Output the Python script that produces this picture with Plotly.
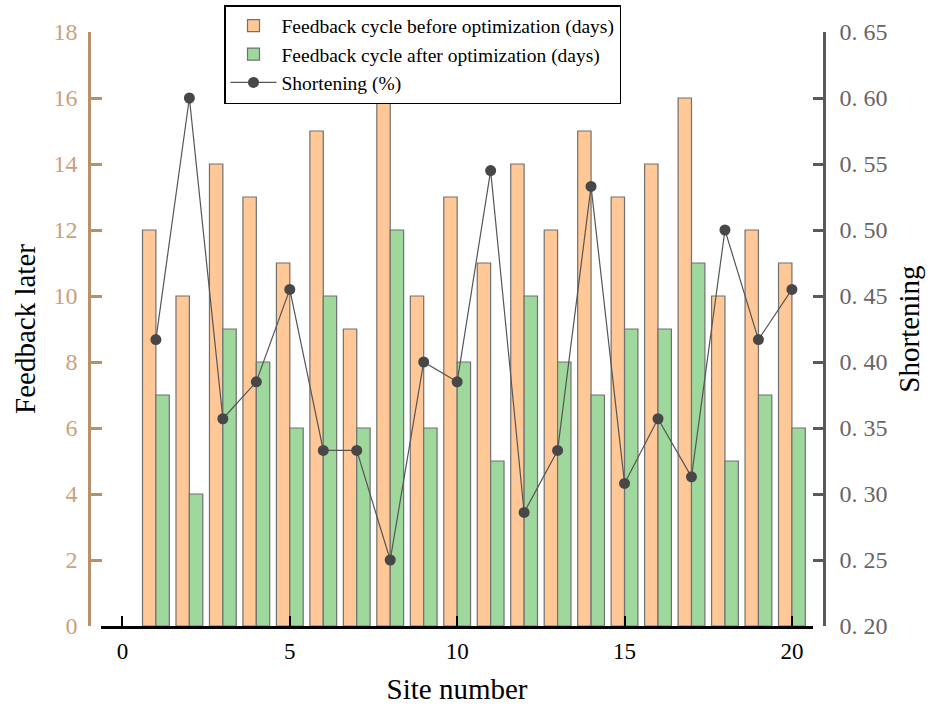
import plotly.graph_objects as go

sites = list(range(1, 21))
before_days = [12, 10, 14, 13, 11, 15, 9, 16, 10, 13, 11, 14, 12, 15, 13, 14, 16, 10, 12, 11]
after_days = [7, 4, 9, 8, 6, 10, 6, 12, 6, 8, 5, 10, 8, 7, 9, 9, 11, 5, 7, 6]
shortening = [0.417, 0.600, 0.357, 0.385, 0.455, 0.333, 0.333, 0.250, 0.400, 0.385,
              0.545, 0.286, 0.333, 0.533, 0.308, 0.357, 0.313, 0.500, 0.417, 0.455]

left_ticks = [0, 2, 4, 6, 8, 10, 12, 14, 16, 18]
right_ticks = [0.20, 0.25, 0.30, 0.35, 0.40, 0.45, 0.50, 0.55, 0.60, 0.65]
right_labels = ["0. 20", "0. 25", "0. 30", "0. 35", "0. 40", "0. 45", "0. 50", "0. 55", "0. 60", "0. 65"]

SERIF = "Liberation Serif, Times New Roman, serif"
TAN = "#B8916B"
TANTXT = "#C9A27D"
GRAY = "#5a5a5a"

fig = go.Figure()
fig.add_trace(go.Bar(x=sites, y=before_days, name="Feedback cycle before optimization (days)",
                     marker=dict(color="#FFC896", line=dict(color="#707070", width=1.2))))
fig.add_trace(go.Bar(x=sites, y=after_days, name="Feedback cycle after optimization (days)",
                     marker=dict(color="#9FD89C", line=dict(color="#707070", width=1.2))))
fig.add_trace(go.Scatter(x=sites, y=shortening, name="Shortening (%)", yaxis="y2",
                         mode="lines+markers",
                         line=dict(color="#555555", width=1.2),
                         marker=dict(color="#474747", size=11)))

W, H = 930, 706
L, R, T, B = 89, 106, 32, 80
pw = W - L - R
ph = H - T - B

fig.update_layout(
    width=W, height=H,
    margin=dict(l=L, r=R, t=T, b=B, autoexpand=False),
    paper_bgcolor="white", plot_bgcolor="white",
    barmode="group", bargap=0.2, bargroupgap=0,
    font=dict(family=SERIF, color="black"),
    xaxis=dict(
        domain=[12 / pw, 724 / pw],
        range=[-0.64, 20.63],
        tickvals=[0, 5, 10, 15, 20],
        ticks="inside", ticklen=10, tickwidth=2, tickcolor="black",
        showline=True, linecolor="black", linewidth=2.5,
        showgrid=False, zeroline=False, automargin=False,
        tickfont=dict(family=SERIF, size=23, color="black"),
        ticklabelstandoff=3,
        title=dict(text="Site number", font=dict(family=SERIF, size=29, color="black"), standoff=16),
    ),
    yaxis=dict(
        anchor="free", position=0,
        range=[0, 18],
        tickvals=left_ticks,
        ticks="inside", ticklen=11, tickwidth=2.5, tickcolor=TAN,
        showline=True, linecolor=TAN, linewidth=2.5,
        showgrid=False, zeroline=False, automargin=False,
        tickfont=dict(family=SERIF, size=24, color=TANTXT),
        ticklabelstandoff=6,
        title=dict(text="Feedback later", font=dict(family=SERIF, size=29, color="black"), standoff=8),
    ),
    yaxis2=dict(
        anchor="free", position=1, overlaying="y", side="right",
        range=[0.20, 0.65],
        tickvals=right_ticks, ticktext=right_labels,
        ticks="inside", ticklen=10, tickwidth=2.5, tickcolor=GRAY,
        showline=True, linecolor=GRAY, linewidth=2.5,
        showgrid=False, zeroline=False, automargin=False,
        tickfont=dict(family=SERIF, size=24, color="#666666"),
        ticklabelstandoff=9,
        title=dict(text="Shortening", font=dict(family=SERIF, size=29, color="black"), standoff=12),
    ),
    legend=dict(
        x=(224 - L) / pw, y=1 + (T - 5) / ph, xanchor="left", yanchor="top",
        bgcolor="white", bordercolor="black", borderwidth=1.5,
        font=dict(family=SERIF, size=19.5, color="black"),
        tracegroupgap=0, itemwidth=46,
    ),
    showlegend=True,
)

fig.write_html("out.html")
